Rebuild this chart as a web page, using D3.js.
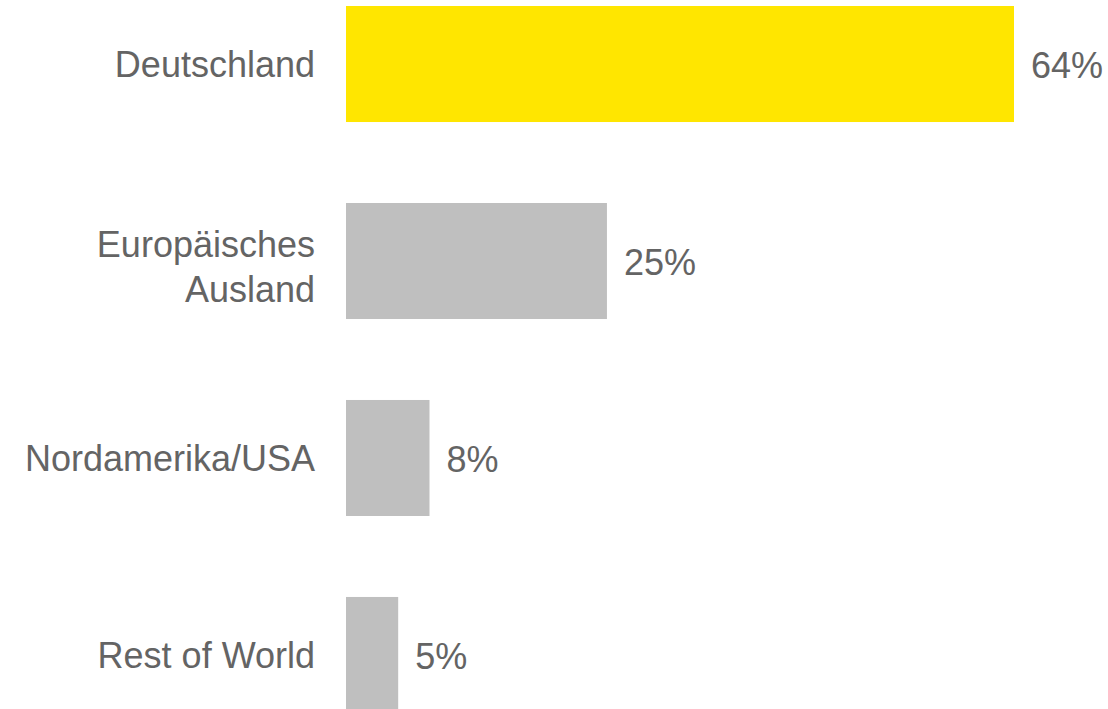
<!DOCTYPE html>
<html>
<head>
<meta charset="utf-8">
<script src="https://cdn.jsdelivr.net/npm/d3@7"></script>
<style>
  body { margin: 0; background: #fff; }
  svg { display: block; }
  text { font-family: "Liberation Sans", Arial, sans-serif; fill: #646464; }
</style>
</head>
<body>
<svg width="1108" height="709"></svg>
<script>
const width = 1108;
const height = 709;

// data
const categories = ["Deutschland", "Europäisches Ausland", "Nordamerika/USA", "Rest of World"];
const labelLines = [["Deutschland"], ["Europäisches", "Ausland"], ["Nordamerika/USA"], ["Rest of World"]];
const values = [64, 25, 8, 5];
const valueLabels = ["64%", "25%", "8%", "5%"];
const barColors = ["#FFE600", "#BFBFBF", "#BFBFBF", "#BFBFBF"];

const rows = categories.map((c, i) => ({
  name: c, lines: labelLines[i], value: values[i], label: valueLabels[i], color: barColors[i]
}));

const x = d3.scaleLinear()
  .domain([0, 64])
  .range([346, 1014]);

const y = d3.scaleBand()
  .domain(categories)
  .range([6, 713])
  .paddingInner(0.411)
  .paddingOuter(0);

const svg = d3.select("svg");
const fontSize = 36;
const lineHeight = 45;

const row = svg.append("g")
  .selectAll("g")
  .data(rows)
  .join("g");

row.append("rect")
  .attr("x", x(0))
  .attr("y", d => y(d.name))
  .attr("width", d => x(d.value) - x(0))
  .attr("height", y.bandwidth())
  .attr("fill", d => d.color);

// category labels, right aligned left of the bars
row.append("text")
  .attr("text-anchor", "end")
  .attr("font-size", fontSize)
  .each(function(d) {
    const cy = y(d.name) + y.bandwidth() / 2;
    const n = d.lines.length;
    d3.select(this).selectAll("tspan")
      .data(d.lines)
      .join("tspan")
      .attr("x", x(0) - 31)
      .attr("y", (l, i) => cy + 13 + (i - (n - 1) / 2) * lineHeight + (n > 1 ? 5 : 0))
      .text(l => l);
  });

// value labels
row.append("text")
  .attr("x", d => x(d.value) + 17)
  .attr("y", d => y(d.name) + y.bandwidth() / 2 + 14)
  .attr("font-size", fontSize)
  .text(d => d.label);
</script>
</body>
</html>
